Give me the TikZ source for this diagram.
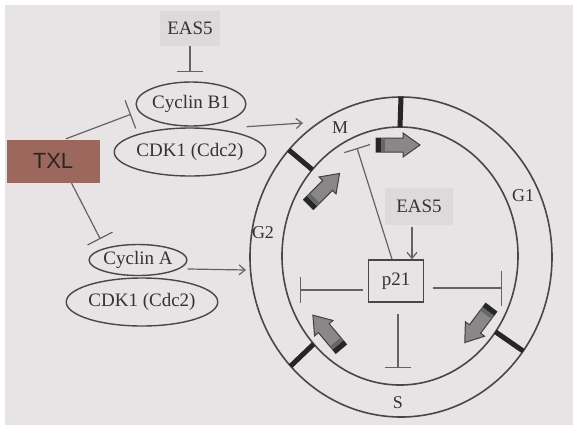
\documentclass[tikz,border=0pt]{standalone}
\usepackage{fontspec}
\setmainfont{Liberation Serif}
\newfontfamily\txlfont{Liberation Sans}
\usepackage{tikz}
\usetikzlibrary{arrows.meta, shapes.geometric}

\definecolor{paper}{HTML}{E8E3E5}
\definecolor{inkgray}{HTML}{4A4646}
\definecolor{linegray}{HTML}{666263}
\definecolor{shadebox}{HTML}{DEDADB}
\definecolor{txlbrown}{HTML}{9C675C}
\definecolor{arrowgray}{HTML}{8A8788}

\newcommand{\phasearrow}[3]{%
  \begin{scope}[shift={(#1,#2)}, rotate=#3]
    \filldraw[fill=arrowgray, draw=black!75, line width=0.5pt] (-22,-7) -- (5,-7) -- (5,-12) -- (22,0) -- (5,12) -- (5,7) -- (-22,7) -- cycle;
    \fill[black!85] (-22,-7) rectangle (-17,7);
    \fill[black!60] (-17,-7) rectangle (-13,7);
  \end{scope}}

\begin{document}
\begin{tikzpicture}[
  x=0.5pt, y=-0.5pt,
  >={Straight Barb[length=3pt,width=5pt]},
  line width=0.6pt,
  every node/.style={font=\fontsize{9.5}{11}\selectfont, text=black!80},
  cyclin/.style={ellipse, draw=inkgray, line width=0.7pt, inner sep=0pt},
  easbox/.style={fill=shadebox, minimum width=30pt, minimum height=17.5pt},
  inhib/.style={draw=linegray, -{Bar[width=13pt]}},
  act/.style={draw=linegray, ->},
  ring/.style={draw=inkgray, line width=0.8pt},
  checkpt/.style={line width=2.5pt, black!85},
  phase/.style={font=\fontsize{9}{10}\selectfont}
]
\useasboundingbox (0,0) rectangle (573,425);
\fill[white] (0,0) rectangle (573,425);
\fill[paper] (5,5) rectangle (573,425);

\node[easbox] (eastop) at (190,28) {EAS5};
\node[cyclin, minimum width=54pt, minimum height=22pt] (cycb) at (191,104) {Cyclin B1};
\node[cyclin, minimum width=72pt, minimum height=24pt] (cdkb) at (190,152) {CDK1 (Cdc2)};
\node[fill=txlbrown, minimum width=46.5pt, minimum height=21.5pt, font=\txlfont\fontsize{11}{12}\selectfont, text=black!85] (txl) at (53,161) {TXL};
\node[cyclin, minimum width=48.5pt, minimum height=15.5pt] (cyca) at (138,260) {Cyclin A};
\node[cyclin, minimum width=70.5pt, minimum height=24pt] (cdka) at (142,302) {CDK1 (Cdc2)};

\draw[ring] (401,257) ellipse [x radius=151, y radius=160];
\draw[ring] (400,256) ellipse [x radius=118, y radius=129];
\foreach \t in {90,138,223,-36}
  \draw[checkpt] ({400+118*cos(\t)},{256-129*sin(\t)}) -- ({401+151*cos(\t)},{257-160*sin(\t)});

\node[phase] (lblM) at (340,128) {M};
\node[phase] (lblG1) at (523,196) {G1};
\node[phase] (lblG2) at (263,233) {G2};
\node[phase] (lblS) at (398,403) {S};

\phasearrow{398}{145}{0}
\phasearrow{324}{189}{45}
\phasearrow{327}{332}{130}
\phasearrow{478}{325}{233}

\node[easbox, minimum width=34pt, minimum height=18.5pt] (easin) at (419,206) {EAS5};
\node[draw=inkgray, fill=paper, line width=0.8pt, minimum width=27.5pt, minimum height=21pt] (p21) at (396,281) {p21};

\coordinate (mtip) at (303,123);
\coordinate (g2tip) at (246,270);
\coordinate (mstop) at (357,148);
\coordinate (g2stop) at (300,290);
\coordinate (g1stop) at (502,288);
\coordinate (sstop) at (398,368);

\draw[inhib, shorten >=4.5pt] (eastop.south) -- (eastop.south |- cycb.north);
\draw[inhib, -{Bar[width=15pt]}, shorten >=4pt] (txl.60) -- (cycb.188);
\draw[inhib, -{Bar[width=14pt]}, shorten >=5pt] (txl.-50) -- (cyca.160);
\draw[act] (cycb.south -| cycb.east) -- (mtip);
\draw[act, shorten <=4pt] (cyca.-12) -- (g2tip);

\draw[act, shorten <=1pt] ([xshift=-3.5pt]easin.south) -- ([xshift=-3.5pt]easin.south |- p21.north);
\draw[inhib, -{Bar[width=13.5pt]}] ([xshift=-2pt]p21.north) -- (mstop);
\draw[inhib, shorten <=2.5pt] ([yshift=-4.5pt]p21.west) -- (g2stop);
\draw[inhib, -{Bar[width=17.5pt]}, shorten <=4.5pt] ([yshift=-3.5pt]p21.east) -- (g1stop);
\draw[inhib, shorten <=5.5pt] ([xshift=1pt]p21.south) -- (sstop);
\end{tikzpicture}
\end{document}
